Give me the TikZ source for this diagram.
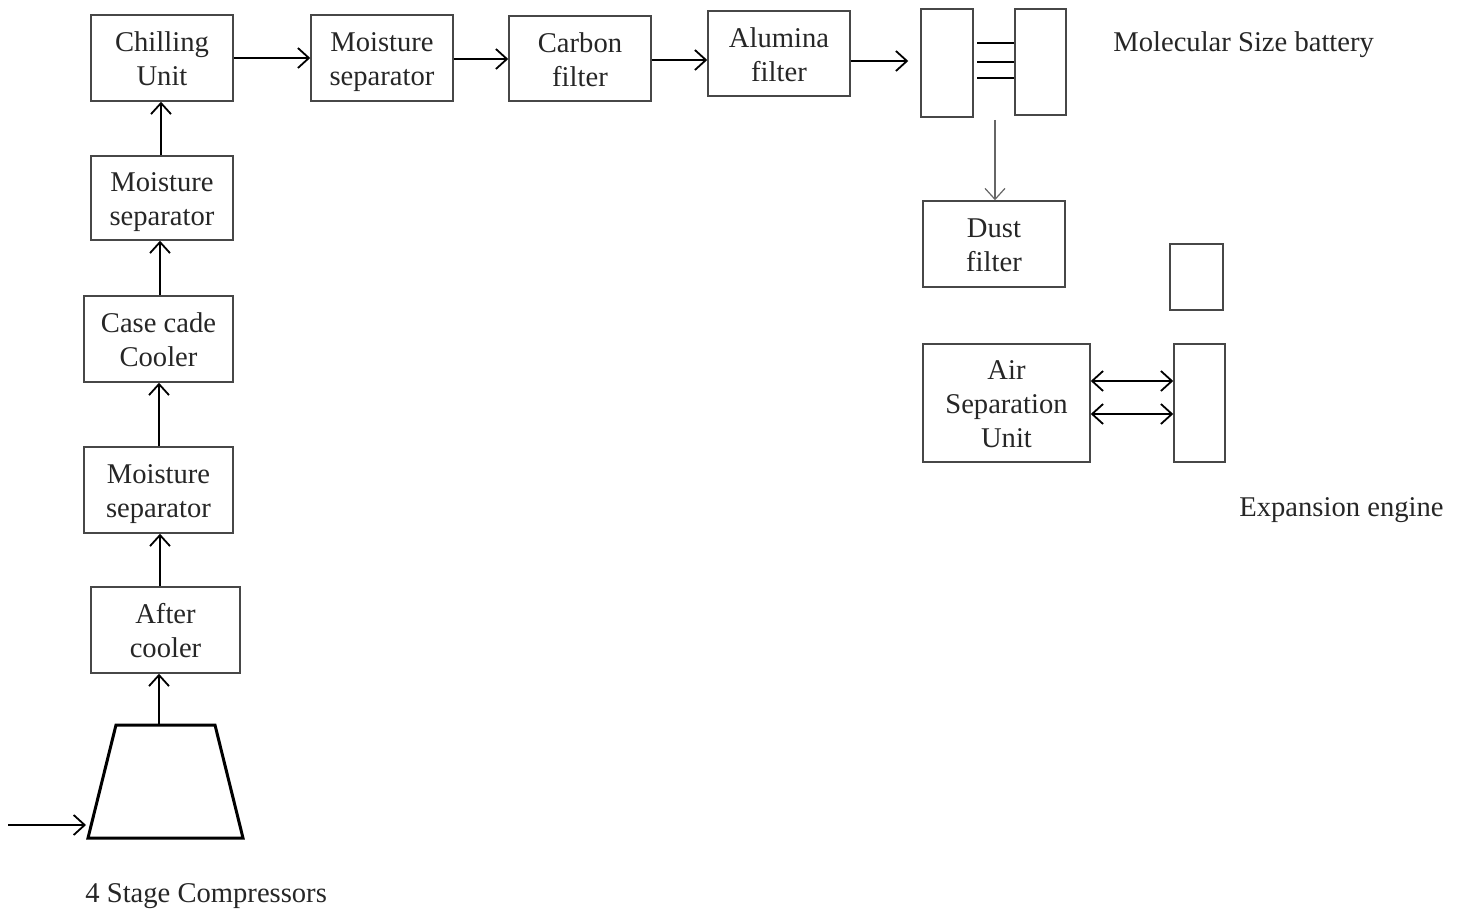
\documentclass[tikz,border=0pt]{standalone}
\usepackage{fontspec}
\setmainfont{Liberation Serif}
\usetikzlibrary{arrows.meta}
% stacked box label: 17pt line pitch, set a little below the box centre
\newcommand{\boxlabel}[1]{%
  \setbox\strutbox\hbox{\vrule height 11.9pt depth 5.1pt width 0pt}%
  \raisebox{-2pt}[\height][\depth]{\begin{tabular}{@{}c@{}}#1\end{tabular}}}
\begin{document}
\begin{tikzpicture}[x=0.5pt,y=-0.5pt,
  unitbox/.style={draw=black!72,line width=0.75pt,rectangle,
    inner sep=0pt,font=\fontsize{14.3}{17}\selectfont,text=black!85},
  flow/.style={line width=0.9pt,-{Straight Barb[length=5.5pt,width=10pt,line width=0.9pt]}},
  both/.style={line width=0.9pt,{Straight Barb[length=5.5pt,width=10pt,line width=0.9pt]}-{Straight Barb[length=5.5pt,width=10pt,line width=0.9pt]}},
  caption/.style={font=\fontsize{14.3}{17}\selectfont,text=black!85,inner sep=0pt}]
\useasboundingbox (0,0) rectangle (1458,911);

% top row
\node[unitbox,minimum width=71pt,minimum height=43pt] (chill) at (162,58) {\boxlabel{Chilling\\Unit}};
\node[unitbox,minimum width=71pt,minimum height=43pt] (msep3) at (382,58) {\boxlabel{Moisture\\separator}};
\node[unitbox,minimum width=71pt,minimum height=42.5pt] (carbon) at (580,58.5) {\boxlabel{Carbon\\filter}};
\node[unitbox,minimum width=71pt,minimum height=42.5pt] (alum) at (779,53.5) {\boxlabel{Alumina\\filter}};

% molecular sieve battery
\node[unitbox,minimum width=26pt,minimum height=54pt] (molA) at (947,63) {};
\node[unitbox,minimum width=25.5pt,minimum height=53pt] (molB) at (1040.5,62) {};
\foreach \yy in {43,62,78}
  \draw[line width=1pt] (977,\yy) -- (molB.west |- 0,\yy);
\node[caption,anchor=west] (molcap) at (1113,45) {Molecular Size battery};

% dust filter and separation unit
\node[unitbox,minimum width=71pt,minimum height=43pt] (dust) at (994,244) {\boxlabel{Dust\\filter}};
\node[unitbox,minimum width=83.5pt,minimum height=59pt] (asu) at (1006.5,403) {\boxlabel{Air\\Separation\\Unit}};
\node[unitbox,minimum width=26.5pt,minimum height=33pt] (smallbox) at (1196.5,277) {};
\node[unitbox,minimum width=25.5pt,minimum height=59pt] (expeng) at (1199.5,403) {};
\node[caption,anchor=west] (expcap) at (1239,510) {Expansion engine};

% left column
\node[unitbox,minimum width=71pt,minimum height=42pt] (msep2) at (162,198) {\boxlabel{Moisture\\separator}};
\node[unitbox,minimum width=74.5pt,minimum height=43pt] (cascade) at (158.5,339) {\boxlabel{Case cade\\Cooler}};
\node[unitbox,minimum width=74.5pt,minimum height=43pt] (msep1) at (158.5,490) {\boxlabel{Moisture\\separator}};
\node[unitbox,minimum width=74.5pt,minimum height=43pt] (after) at (165.5,630) {\boxlabel{After\\cooler}};

% compressor
\coordinate (cTL) at (116,725);
\coordinate (cTR) at (215,725);
\coordinate (cBR) at (243,838);
\coordinate (cBL) at (88,838);
\coordinate (cTop) at (159,725);
\coordinate (inlet) at (8,825);
\coordinate (inletEnd) at (86,825);
\draw[line width=1.5pt,line join=miter] (cTL) -- (cTR) -- (cBR) -- (cBL) -- cycle;
\node[caption,anchor=west] (compcap) at (85,896) {4 Stage Compressors};

% flow connectors
\draw[flow] (inlet) -- (inletEnd);
\draw[flow] (cTop) -- (after.south -| cTop);
\draw[flow] (after.north -| 160,0) -- (msep1.south -| 160,0);
\draw[flow] (msep1.north -| 159,0) -- (cascade.south -| 159,0);
\draw[flow] (cascade.north -| 160,0) -- (msep2.south -| 160,0);
\draw[flow] (msep2.north -| 161,0) -- (chill.south -| 161,0);
\draw[flow] (chill.east |- 0,58) -- (msep3.west |- 0,58);
\draw[flow] (msep3.east |- 0,59) -- (carbon.west |- 0,59);
\draw[flow] (carbon.east |- 0,60) -- (alum.west |- 0,60);
\draw[flow,shorten >=6pt] (alum.east |- 0,61) -- (molA.west |- 0,61);
\draw[draw=black!60,line width=0.6pt,-{Straight Barb[length=5.5pt,width=10pt,line width=0.6pt]},shorten <=1pt]
  (molA.south -| 995,0) -- (dust.north -| 995,0);
\draw[both] (asu.east |- 0,381) -- (expeng.west |- 0,381);
\draw[both] (asu.east |- 0,414) -- (expeng.west |- 0,414);
\end{tikzpicture}
\end{document}
